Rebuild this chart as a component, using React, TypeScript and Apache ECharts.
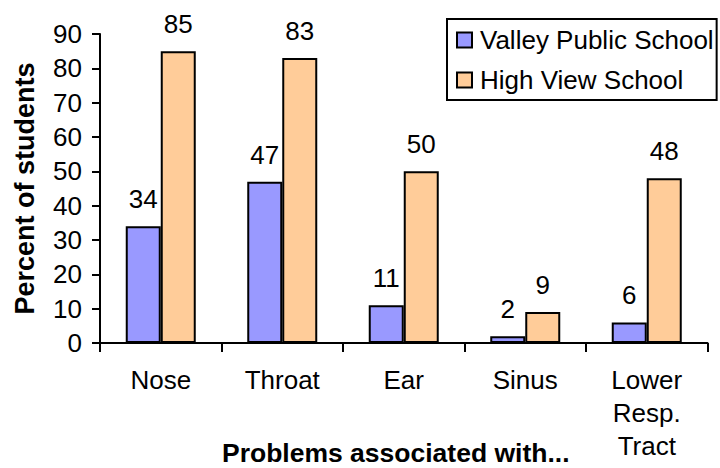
import React, { useEffect, useRef } from "react";
import * as echarts from "echarts";

const categories = ["Nose", "Throat", "Ear", "Sinus", "Lower\nResp.\nTract"];
const valleyValues = [34, 47, 11, 2, 6];
const highViewValues = [85, 83, 50, 9, 48];
const seriesNames = ["Valley Public School", "High View School"];
const yTitle = "Percent of students";
const xTitle = "Problems associated with...";

const FONT = "'Liberation Sans', Arial, sans-serif";

export default function App() {
  const ref = useRef<HTMLDivElement>(null);
  useEffect(() => {
    if (!ref.current) return;
    const chart = echarts.init(ref.current, null, { renderer: "svg" });
    const labelStyle = {
      show: true,
      position: "top",
      distance: 14,
      fontSize: 26,
      color: "#000",
      fontFamily: FONT,
    };
    chart.setOption({
      animation: false,
      backgroundColor: "#fff",
      textStyle: { fontFamily: FONT, color: "#000" },
      grid: {
        left: 100,
        right: 12.5,
        top: 34,
        bottom: 125,
        containLabel: false,
        outerBoundsMode: "none",
      },
      legend: {
        orient: "vertical",
        left: 447,
        top: 19,
        padding: [8, 3, 7, 9],
        itemGap: 14,
        itemWidth: 15,
        itemHeight: 15,
        borderColor: "#000",
        borderWidth: 2,
        icon: "rect",
        textStyle: { fontSize: 26, color: "#000", fontFamily: FONT, padding: [0, 0, 0, 3] },
        data: seriesNames,
      },
      xAxis: {
        type: "category",
        data: categories,
        name: xTitle,
        nameLocation: "middle",
        nameGap: 99,
        nameMoveOverlap: false,
        nameTextStyle: {
          fontSize: 26.5,
          fontWeight: "bold",
          color: "#000",
          fontFamily: FONT,
          lineHeight: 22,
          padding: [0, 16, 0, 0],
        },
        axisLine: { show: true, lineStyle: { color: "#000", width: 2 } },
        axisTick: { show: true, alignWithLabel: false, length: 9, lineStyle: { color: "#000", width: 2 } },
        axisLabel: {
          fontSize: 26,
          color: "#000",
          fontFamily: FONT,
          margin: 20,
          lineHeight: 33,
          interval: 0,
        },
        splitLine: { show: false },
      },
      yAxis: {
        type: "value",
        min: 0,
        max: 90,
        interval: 10,
        name: yTitle,
        nameLocation: "middle",
        nameGap: 62,
        nameMoveOverlap: false,
        nameTextStyle: { fontSize: 27, fontWeight: "bold", color: "#000", fontFamily: FONT },
        axisLine: { show: true, lineStyle: { color: "#000", width: 2 } },
        axisTick: { show: true, length: 8, lineStyle: { color: "#000", width: 2 } },
        axisLabel: { fontSize: 26, color: "#000", fontFamily: FONT, margin: 18 },
        splitLine: { show: false },
      },
      series: [
        {
          name: seriesNames[0],
          type: "bar",
          data: valleyValues,
          barWidth: 35,
          barGap: "0%",
          itemStyle: { color: "#9999FF", borderColor: "#000", borderWidth: 2 },
          label: labelStyle,
        },
        {
          name: seriesNames[1],
          type: "bar",
          data: highViewValues,
          barWidth: 35,
          barGap: "0%",
          itemStyle: { color: "#FFCC99", borderColor: "#000", borderWidth: 2 },
          label: labelStyle,
        },
      ],
    });
    return () => chart.dispose();
  }, []);
  return (
    <div
      ref={ref}
      style={{ position: "fixed", left: 0, top: 0, width: 720, height: 468, background: "#fff" }}
    />
  );
}
